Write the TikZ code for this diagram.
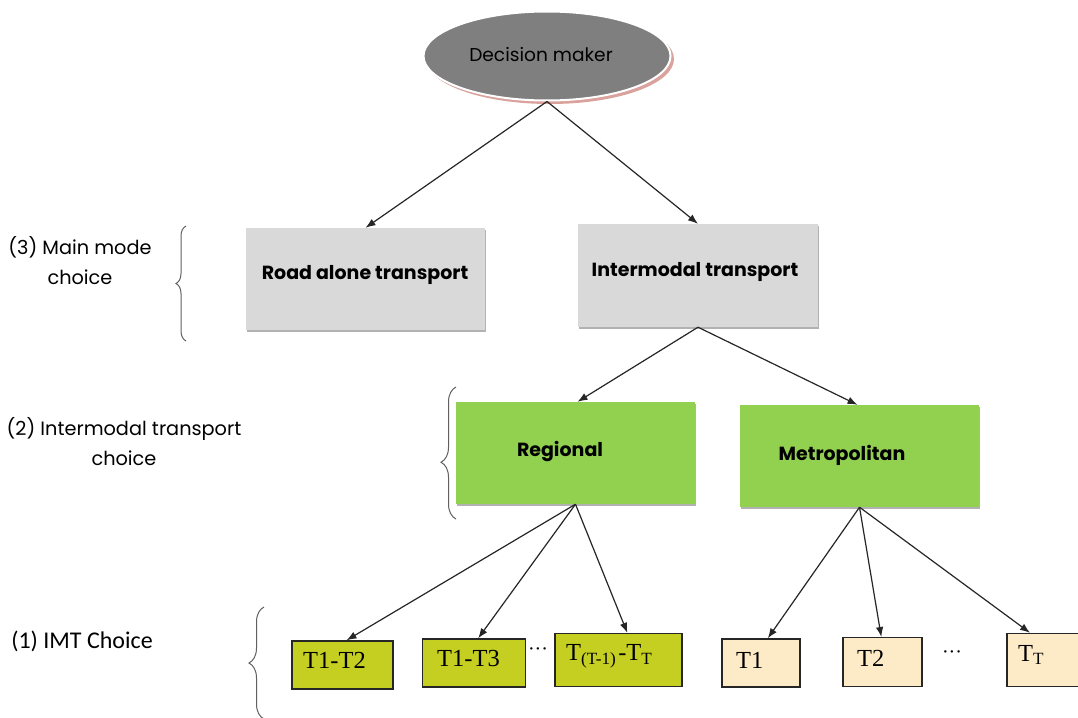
\documentclass[tikz,border=0pt]{standalone}
\usepackage{fontspec}
\setmainfont{Poppins}
\newfontfamily\calib{Carlito}
\newfontfamily\tms{Liberation Serif}
\usetikzlibrary{arrows.meta,shadows,decorations.pathreplacing,shapes.geometric,calc}
\definecolor{dmgray}{HTML}{7F7F7F}
\definecolor{boxgray}{HTML}{D9D9D9}
\definecolor{boxgreen}{HTML}{92D050}
\definecolor{olivebox}{HTML}{C4CF22}
\definecolor{creambox}{HTML}{FDEBC8}
\definecolor{shred}{HTML}{D9A29C}
\definecolor{bracegray}{HTML}{606060}
\begin{document}
\begin{tikzpicture}[x=1pt,y=-1pt,
  conn/.style={draw=black!85,line width=1.2pt,-{Latex[length=10pt,width=7.5pt]}},
  bigbox/.style={rectangle,inner sep=0pt,minimum width=239pt,minimum height=102pt,
     drop shadow={shadow xshift=0.5pt,shadow yshift=-2pt,opacity=0.3,fill=black}},
  boxlabel/.style={inner sep=0pt,font=\bfseries\fontsize{19}{22}\selectfont},
  sidelabel/.style={inner sep=0pt,align=center,font=\fontsize{19.3}{30}\selectfont},
  smallbox/.style={rectangle,draw=black!85,line width=1.4pt,inner sep=0pt,minimum height=47pt},
  smalllabel/.style={anchor=west,inner sep=0pt,font=\tms\fontsize{24.5}{27}\selectfont},
  dotslabel/.style={inner sep=0pt,font=\tms\fontsize{20}{22}\selectfont},
  bracedeco/.style={draw=bracegray,line width=1pt,decorate}
]
\clip (0,0) rectangle (1078,717);
\fill[white] (0,0) rectangle (1078,717);

% decision maker
\node[ellipse,fill=shred,minimum width=248pt,minimum height=90pt,inner sep=0pt] (dmshadow) at (550,59) {};
\node[ellipse,fill=dmgray,draw=white,line width=2pt,minimum width=247pt,minimum height=89pt,inner sep=0pt] (dm) at (547,56) {};
\node[inner sep=0pt,font=\fontsize{18.6}{22}\selectfont] (dmtext) at (541,55) {Decision maker};

% main mode boxes
\node[bigbox,fill=boxgray] (road) at (365.5,279) {};
\node[boxlabel] (roadtext) at (365,275) {Road alone transport};
\node[bigbox,fill=boxgray,minimum width=240pt,minimum height=103pt] (inter) at (698,275.5) {};
\node[boxlabel] (intertext) at (695,272) {Intermodal transport};

% intermodal choice boxes
\node[bigbox,fill=boxgreen] (reg) at (575.5,453) {};
\node[boxlabel] (regtext) at (560,451) {Regional};
\node[bigbox,fill=boxgreen] (met) at (859.5,456) {};
\node[boxlabel] (mettext) at (842,455) {Metropolitan};

% IMT boxes
\node[smallbox,fill=olivebox,minimum width=101pt,minimum height=48pt] (t12) at (342.5,665) {};
\node[smalllabel] (t12text) at (303,660) {T1-T2};
\node[smallbox,fill=olivebox,minimum width=103pt,minimum height=48pt] (t13) at (474.2,663) {};
\node[smalllabel] (t13text) at (437,658) {T1-T3};
\node[dotslabel] (dotsa) at (538,652) {···};
\node[smallbox,fill=olivebox,minimum width=127pt,minimum height=53pt] (tlast) at (618.3,660) {};
\node[smalllabel] (tlasttext) at (566,656) {T\textsubscript{(T-1)}\kern2pt-T\textsubscript{T}};

\node[smallbox,fill=creambox,minimum width=78pt,minimum height=48pt] (ta) at (760.8,663) {};
\node[smalllabel] (tatext) at (736,660) {T1};
\node[smallbox,fill=creambox,minimum width=79pt,minimum height=49pt] (tb) at (882.3,662.2) {};
\node[smalllabel] (tbtext) at (857,658) {T2};
\node[dotslabel] (dotsb) at (952,655) {···};
\node[smallbox,fill=creambox,minimum width=80pt,minimum height=53pt] (tc) at (1047,660) {};
\node[smalllabel] (tctext) at (1018,655) {T\textsubscript{T}};

% connectors
\draw[conn] (dm.south) -- (road.north);
\draw[conn] (dm.south) -- (inter.north);
\draw[conn] (inter.south) -- ([xshift=2pt]reg.north);
\draw[conn] (inter.south) -- ([xshift=-2pt]met.north);
\draw[conn] (reg.south) -- ([xshift=4pt]t12.north);
\draw[conn] (reg.south) -- ([xshift=4pt]t13.north);
\draw[conn] (reg.south) -- ([xshift=9pt]tlast.north);
\draw[conn] (met.south) -- ([xshift=7pt]ta.north);
\draw[conn] (met.south) -- ([xshift=-1pt]tb.north);
\draw[conn] (met.south) -- ([xshift=-17pt]tc.north);

% side labels and braces
\node[sidelabel] (lab3) at (80,261) {(3) Main mode\\choice};
\node[sidelabel] (lab2) at (124,442) {(2) Intermodal transport\\choice};
\node[inner sep=0pt,font=\calib\fontsize{24}{27}\selectfont] (lab1) at (82,641) {(1) IMT Choice};

\coordinate (b3a) at (186,341);
\coordinate (b3b) at (186,226);
\draw[bracedeco,decoration={brace,amplitude=10pt}] (b3a) -- (b3b);
\coordinate (b2a) at (456,519);
\coordinate (b2b) at (456,387);
\draw[bracedeco,decoration={brace,amplitude=15pt,aspect=0.43}] (b2a) -- (b2b);
\coordinate (b1a) at (264,719);
\coordinate (b1b) at (264,607);
\draw[bracedeco,decoration={brace,amplitude=15pt,aspect=0.5}] (b1a) -- (b1b);
\end{tikzpicture}
\end{document}
